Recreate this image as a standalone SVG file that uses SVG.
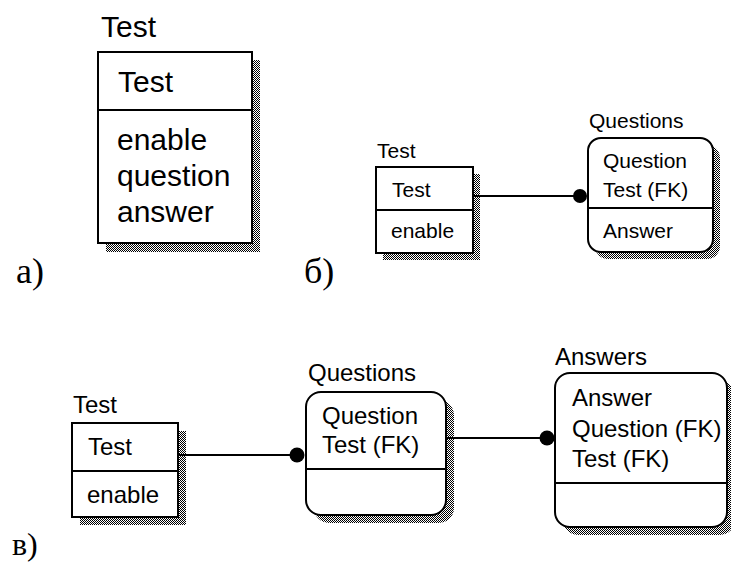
<svg xmlns="http://www.w3.org/2000/svg" width="731" height="563" viewBox="0 0 731 563">
<defs>
<pattern id="dither" width="2" height="2" patternUnits="userSpaceOnUse">
<rect width="2" height="2" fill="#ffffff"/>
<rect x="0" y="0" width="1" height="1" fill="#000"/>
<rect x="1" y="1" width="1" height="1" fill="#000"/>
</pattern>
</defs>
<style>
.box{fill:#fff;stroke:#000;stroke-width:2}
.sh{fill:url(#dither);stroke:none}
.div{stroke:#000;stroke-width:2}
.t{font-family:"Liberation Sans",Arial,sans-serif;fill:#000}
.a{font-size:30px}
.b{font-size:21px}
.c{font-size:24px}
.lbl{font-family:"Liberation Serif","Times New Roman",serif;fill:#000;font-size:36px}
.con{stroke:#000;stroke-width:2;fill:none}
</style>
<rect width="731" height="563" fill="#fff"/>

<g id="a-test">
<text class="t a" x="101" y="37">Test</text>
<rect class="sh" x="106" y="60" width="154" height="192"/>
<rect class="box" x="98" y="52" width="154" height="191"/>
<line class="div" x1="98" y1="110" x2="252" y2="110"/>
<text class="t a" x="118" y="92">Test</text>
<text class="t a" x="117" y="150">enable</text>
<text class="t a" x="117" y="186">question</text>
<text class="t a" x="117" y="222">answer</text>
</g>

<g id="b-test">
<text class="t b" x="377" y="158">Test</text>
<rect class="sh" x="383" y="174" width="97" height="86"/>
<rect class="box" x="376" y="167" width="97" height="86"/>
<line class="div" x1="376" y1="210" x2="473" y2="210"/>
<text class="t b" x="392" y="197">Test</text>
<text class="t b" x="391" y="238">enable</text>
</g>

<g id="b-questions">
<text class="t b" x="589" y="128">Questions</text>
<rect class="sh" x="595" y="145" width="125" height="114" rx="13"/>
<rect class="box" x="588" y="138" width="125" height="114" rx="13"/>
<line class="div" x1="588" y1="208" x2="713" y2="208"/>
<text class="t b" x="603" y="168">Question</text>
<text class="t b" x="603" y="197">Test (FK)</text>
<text class="t b" x="603" y="238">Answer</text>
</g>

<g id="c-test">
<text class="t c" x="73" y="413">Test</text>
<rect class="sh" x="80" y="431" width="106" height="94"/>
<rect class="box" x="72" y="423" width="106" height="94"/>
<line class="div" x1="72" y1="471" x2="178" y2="471"/>
<text class="t c" x="88" y="455">Test</text>
<text class="t c" x="87" y="503">enable</text>
</g>

<g id="c-questions">
<text class="t c" x="308" y="381">Questions</text>
<rect class="sh" x="314" y="400" width="140" height="123" rx="15"/>
<rect class="box" x="306" y="392" width="140" height="123" rx="15"/>
<line class="div" x1="306" y1="469" x2="446" y2="469"/>
<text class="t c" x="322" y="424">Question</text>
<text class="t c" x="322" y="453">Test (FK)</text>
</g>

<g id="c-answers">
<text class="t c" x="555" y="365">Answers</text>
<rect class="sh" x="563" y="381" width="172" height="154" rx="15"/>
<rect class="box" x="555" y="373" width="172" height="154" rx="15"/>
<line class="div" x1="555" y1="483" x2="727" y2="483"/>
<text class="t c" x="572" y="406">Answer</text>
<text class="t c" x="572" y="437">Question (FK)</text>
<text class="t c" x="572" y="467">Test (FK)</text>
</g>

<g id="connectors">
<line class="con" x1="474" y1="196" x2="580" y2="196"/>
<circle cx="580" cy="196" r="7" fill="#000"/>
<line class="con" x1="179" y1="455" x2="296" y2="455"/>
<circle cx="297" cy="455" r="7.5" fill="#000"/>
<line class="con" x1="447" y1="438" x2="546" y2="438"/>
<circle cx="547" cy="438" r="7.5" fill="#000"/>
</g>

<g id="labels">
<text class="lbl" x="16" y="283">а)</text>
<text class="lbl" x="304" y="283">б)</text>
<text class="lbl" x="12" y="555" style="font-size:32px">в)</text>
</g>
</svg>
